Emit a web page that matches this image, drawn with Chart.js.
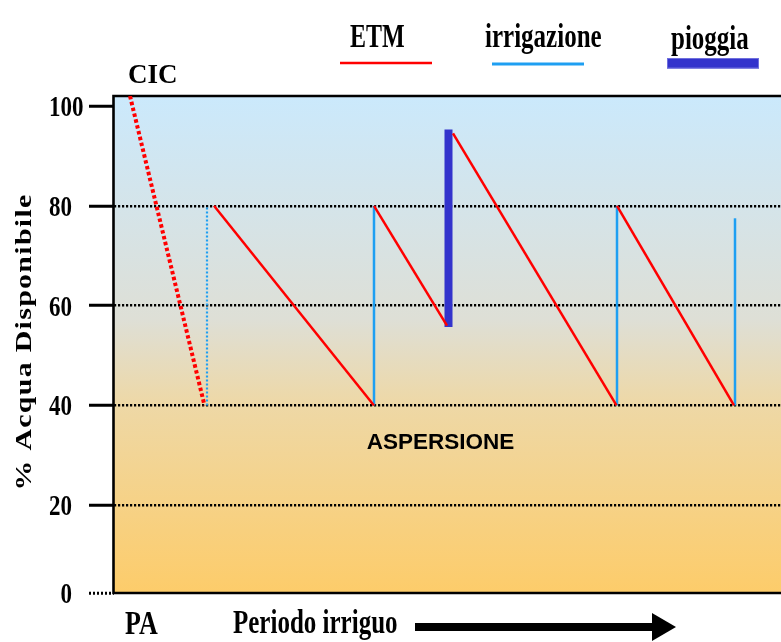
<!DOCTYPE html>
<html>
<head>
<meta charset="utf-8">
<script src="https://cdn.jsdelivr.net/npm/chart.js@4/dist/chart.umd.min.js"></script>
<style>
  html, body { margin: 0; padding: 0; background: #ffffff; }
  #wrap { width: 781px; height: 642px; position: relative; }
</style>
</head>
<body>
<div id="wrap"><canvas id="c" width="781" height="642"></canvas></div>
<script>
// ---- Data (x = giorni del periodo irriguo, y = % acqua disponibile) ----
const yTicks = [0, 20, 40, 60, 80, 100];
const yTickLabels = ['0', '20', '40', '60', '80', '100'];
const legendLabels = ['ETM', 'irrigazione', 'pioggia'];

// CIC: depletion from field capacity (dotted)
const cicX = [1.6, 9.05];
const cicY = [102, 40];

// ETM depletion segments
const etmStartX = [10.0, 26.0, 33.9, 50.3];
const etmStartY = [80, 80, 94.5, 80];
const etmEndX = [26.0, 33.3, 50.25, 62.0];
const etmEndY = [40, 56, 40, 40];

// Irrigations (first one dotted)
const irrX = [9.3, 26.0, 50.3, 62.1];
const irrFrom = [40, 40, 40, 40];
const irrTo = [80, 80, 80, 77.5];

// Rain event
const rainX = [33.45];
const rainFrom = [55.7];
const rainTo = [95.3];

const Y_MIN = 2.43, Y_MAX = 102, X_MIN = 0, X_MAX = 66.7;

const RED = '#FF0000';
const BLUE = '#1E9FF2';
const RAIN = '#3333CC';

const datasets = [];
datasets.push({
  label: 'CIC',
  data: cicX.map((x, i) => ({ x, y: cicY[i] })),
  borderColor: RED, borderWidth: 4, borderDash: [3.5, 2.5]
});
etmStartX.forEach((x, i) => {
  datasets.push({
    label: 'ETM',
    data: [{ x, y: etmStartY[i] }, { x: etmEndX[i], y: etmEndY[i] }],
    borderColor: RED, borderWidth: 2.5
  });
});
irrX.forEach((x, i) => {
  datasets.push({
    label: 'irrigazione',
    data: [{ x, y: irrFrom[i] }, { x, y: irrTo[i] }],
    borderColor: BLUE, borderWidth: i === 0 ? 2.2 : 2.5,
    borderDash: i === 0 ? [2, 2] : []
  });
});
rainX.forEach((x, i) => {
  datasets.push({
    label: 'pioggia',
    data: [{ x, y: rainFrom[i] }, { x, y: rainTo[i] }],
    borderColor: RAIN, borderWidth: 8, borderCapStyle: 'butt'
  });
});
datasets.forEach(d => {
  d.showLine = true; d.pointRadius = 0; d.pointHoverRadius = 0; d.fill = false;
  d.tension = 0; if (!d.borderCapStyle) d.borderCapStyle = 'butt';
});

function stxt(ctx, text, x, y, size, sy, align, family) {
  ctx.save();
  ctx.font = 'bold ' + size + 'px ' + (family || '"Liberation Serif", "Times New Roman", serif');
  ctx.textAlign = align || 'left';
  ctx.textBaseline = 'alphabetic';
  ctx.fillStyle = '#000';
  ctx.translate(x, y);
  ctx.scale(1, sy);
  ctx.fillText(text, 0, 0);
  ctx.restore();
}

const decor = {
  id: 'decor',
  beforeDraw(chart) {
    const { ctx, chartArea: a } = chart;
    const g = ctx.createLinearGradient(0, a.top, 0, a.bottom);
    g.addColorStop(0, '#CBE9FC');
    g.addColorStop(0.45, '#DEDFD6');
    g.addColorStop(0.62, '#EED8A6');
    g.addColorStop(1, '#FDCC6A');
    ctx.save();
    ctx.fillStyle = g;
    ctx.fillRect(a.left, a.top, a.right - a.left, a.bottom - a.top);
    ctx.restore();
  },
  beforeDatasetsDraw(chart) {
    const { ctx, chartArea: a } = chart;
    ctx.save();
    ctx.strokeStyle = '#000';
    ctx.lineWidth = 2.6;
    ctx.beginPath();
    ctx.moveTo(a.right + 5, a.top);
    ctx.lineTo(a.left - 0.5, a.top);
    ctx.lineTo(a.left - 0.5, a.bottom);
    ctx.lineTo(a.right + 5, a.bottom);
    ctx.stroke();
    ctx.restore();
  },
  afterDraw(chart) {
    const { ctx } = chart;
    const ys = chart.scales.y;
    // y tick labels
    yTicks.forEach((v, i) => {
      const py = ys.getPixelForValue(Math.max(v, Y_MIN));
      const lab = yTickLabels[i];
      if (lab.length > 1) stxt(ctx, lab, 49, py + 10, 23, 1.3, 'left');
      else stxt(ctx, lab, 72, py + 10, 23, 1.3, 'right');
    });
    // y axis title
    ctx.save();
    ctx.font = 'bold 23px "Liberation Serif", serif';
    ctx.fillStyle = '#000';
    ctx.textAlign = 'center';
    ctx.textBaseline = 'alphabetic';
    try { ctx.letterSpacing = '1px'; } catch (e) {}
    ctx.translate(31, 342);
    ctx.rotate(-Math.PI / 2);
    ctx.scale(1.3, 1);
    ctx.fillText('% Acqua Disponibile', 0, 0);
    ctx.restore();

    // legend
    stxt(ctx, legendLabels[0], 350, 47, 24, 1.38, 'left');
    stxt(ctx, legendLabels[1], 485, 47, 25, 1.33, 'left');
    stxt(ctx, legendLabels[2], 671, 49, 25, 1.33, 'left');
    ctx.save();
    ctx.lineCap = 'butt';
    ctx.strokeStyle = RED; ctx.lineWidth = 2.5;
    ctx.beginPath(); ctx.moveTo(340, 63); ctx.lineTo(432, 63); ctx.stroke();
    ctx.strokeStyle = BLUE; ctx.lineWidth = 3;
    ctx.beginPath(); ctx.moveTo(492, 64); ctx.lineTo(584, 64); ctx.stroke();
    ctx.fillStyle = RAIN;
    ctx.fillRect(667, 58, 92, 10.5);
    ctx.strokeStyle = '#6F6FDD'; ctx.lineWidth = 1;
    ctx.strokeRect(667.5, 58.5, 91, 9.5);
    ctx.restore();

    // annotations
    stxt(ctx, 'CIC', 128, 83, 27, 1.0, 'left');
    stxt(ctx, 'ASPERSIONE', 440.5, 449, 22.5, 1.0, 'center', '"Liberation Sans", Arial, sans-serif');
    stxt(ctx, 'PA', 125, 634, 26, 1.33, 'left');
    stxt(ctx, 'Periodo irriguo', 233, 633, 25, 1.33, 'left');

    // arrow
    ctx.save();
    ctx.fillStyle = '#000';
    ctx.fillRect(415, 623, 238, 8);
    ctx.beginPath();
    ctx.moveTo(652, 613); ctx.lineTo(676, 627); ctx.lineTo(652, 641); ctx.closePath();
    ctx.fill();
    ctx.restore();
  }
};

new Chart(document.getElementById('c'), {
  type: 'scatter',
  data: { datasets },
  options: {
    responsive: false,
    animation: false,
    devicePixelRatio: 1,
    layout: { padding: { top: 96, right: 0, bottom: 49, left: 0 } },
    plugins: { legend: { display: false }, tooltip: { enabled: false }, title: { display: false } },
    scales: {
      x: { type: 'linear', display: false, min: X_MIN, max: X_MAX },
      y: {
        type: 'linear', display: true, position: 'left', min: Y_MIN, max: Y_MAX,
        afterFit(s) { s.width = 114; },
        afterBuildTicks(s) { s.ticks = yTicks.map(v => ({ value: Math.max(v, Y_MIN) })); },
        ticks: { display: false },
        border: { display: false, dash: [2.2, 1.8] },
        grid: {
          lineWidth: 2.5,
          color: c => (c.index === 0 || (c.tick && c.tick.value >= 100)) ? 'rgba(0,0,0,0)' : '#000',
          tickColor: '#000',
          tickWidth: 3,
          tickLength: 25,
          tickBorderDash: c => c.index === 0 ? [2, 2] : [],
          drawTicks: true
        }
      }
    }
  },
  plugins: [decor]
});
</script>
</body>
</html>
